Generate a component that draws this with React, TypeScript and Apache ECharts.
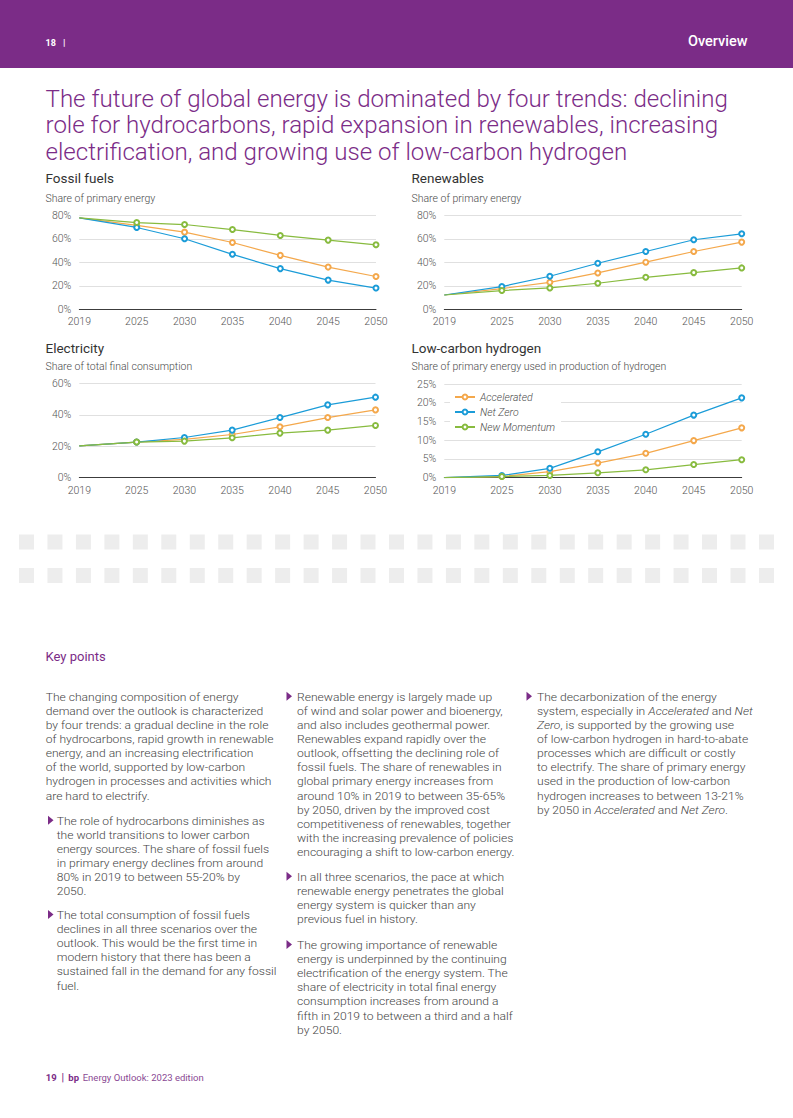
import React, { useEffect, useRef } from 'react';
import * as echarts from 'echarts';

// ---------- DATA ----------
const years = [2019, 2025, 2030, 2035, 2040, 2045, 2050];
const yearTicks = [2019, 2025, 2030, 2035, 2040, 2045, 2050];
const scenarios = ['Accelerated', 'Net Zero', 'New Momentum'];

const fossilAccelerated = [78, 71.5, 65.8, 57, 46, 36, 28];
const fossilNetZero = [78, 69.8, 60.2, 46.9, 34.7, 24.9, 18.1];
const fossilNewMomentum = [78, 74, 72.3, 68, 63, 59, 55];

const renewAccelerated = [12.2, 17.7, 23, 31, 40.2, 49.3, 57.3];
const renewNetZero = [12.2, 19.4, 28.2, 39.3, 49.3, 59.3, 64.4];
const renewNewMomentum = [12.2, 16, 18.2, 22.2, 27.3, 31.3, 35.3];

const elecAccelerated = [20.3, 22.7, 24.4, 27.5, 32.4, 38.3, 43.2];
const elecNetZero = [20.3, 22.7, 25.6, 30.3, 38.3, 46.4, 51.3];
const elecNewMomentum = [20.3, 22.7, 23.3, 25.4, 28.4, 30.3, 33.3];

const h2Accelerated = [0, 0.3, 1.6, 3.9, 6.5, 9.9, 13.3];
const h2NetZero = [0, 0.6, 2.5, 6.9, 11.6, 16.7, 21.3];
const h2NewMomentum = [0, 0.3, 0.6, 1.3, 2.1, 3.5, 4.8];

const fossilYTicks = { max: 80, interval: 20 };
const renewYTicks = { max: 80, interval: 20 };
const elecYTicks = { max: 60, interval: 20 };
const h2YTicks = { max: 25, interval: 5 };

const headerPage = '18';
const headerSection = 'Overview';
const titleLines = [
  'The future of global energy is dominated by four trends: declining',
  'role for hydrocarbons, rapid expansion in renewables, increasing',
  'electrification, and growing use of low-carbon hydrogen',
];
const keyPointsLabel = 'Key points';
const introLines = [
  'The changing composition of energy',
  'demand over the outlook is characterized',
  'by four trends: a gradual decline in the role',
  'of hydrocarbons, rapid growth in renewable',
  'energy, and an increasing electrification',
  'of the world, supported by low-carbon',
  'hydrogen in processes and activities which',
  'are hard to electrify.',
];
const bullet1 = [
  'The role of hydrocarbons diminishes as',
  'the world transitions to lower carbon',
  'energy sources. The share of fossil fuels',
  'in primary energy declines from around',
  '80% in 2019 to between 55-20% by',
  '2050.',
];
const bullet2 = [
  'The total consumption of fossil fuels',
  'declines in all three scenarios over the',
  'outlook. This would be the first time in',
  'modern history that there has been a',
  'sustained fall in the demand for any fossil',
  'fuel.',
];
const bullet3 = [
  'Renewable energy is largely made up',
  'of wind and solar power and bioenergy,',
  'and also includes geothermal power.',
  'Renewables expand rapidly over the',
  'outlook, offsetting the declining role of',
  'fossil fuels. The share of renewables in',
  'global primary energy increases from',
  'around 10% in 2019 to between 35-65%',
  'by 2050, driven by the improved cost',
  'competitiveness of renewables, together',
  'with the increasing prevalence of policies',
  'encouraging a shift to low-carbon energy.',
];
const bullet4 = [
  'In all three scenarios, the pace at which',
  'renewable energy penetrates the global',
  'energy system is quicker than any',
  'previous fuel in history.',
];
const bullet5 = [
  'The growing importance of renewable',
  'energy is underpinned by the continuing',
  'electrification of the energy system. The',
  'share of electricity in total final energy',
  'consumption increases from around a',
  'fifth in 2019 to between a third and a half',
  'by 2050.',
];
const bullet6 = [
  'The decarbonization of the energy',
  'system, especially in {i|Accelerated} and {i|Net}',
  '{i|Zero}, is supported by the growing use',
  'of low-carbon hydrogen in hard-to-abate',
  'processes which are difficult or costly',
  'to electrify. The share of primary energy',
  'used in the production of low-carbon',
  'hydrogen increases to between 13-21%',
  'by 2050 in {i|Accelerated} and {i|Net Zero}.',
];
const footerPage = '19';
const footerBrand = 'bp';
const footerText = 'Energy Outlook: 2023 edition';

// ---------- STYLE ----------
const PURPLE = '#7b2c87';
const TEXT = '#444444';
const AXIS_TEXT = '#555555';
const COLORS = ['#f4a84c', '#1b9cd8', '#88bb3f'];
const FONT = 'Roboto';

const ctx = typeof document !== 'undefined' ? document.createElement('canvas').getContext('2d') : null;
function measure(text: string, font: string) {
  if (!ctx) return 1;
  ctx.font = font;
  return ctx.measureText(text).width || 1;
}

function txt(text: string, x: number, y: number, o: any = {}) {
  return {
    type: 'text',
    x,
    y,
    scaleX: o.scaleX || 1,
    silent: true,
    style: {
      text,
      fontSize: o.fontSize || 11,
      fontWeight: o.fontWeight || 300,
      fontStyle: o.fontStyle || 'normal',
      fontFamily: FONT,
      fill: o.fill || TEXT,
      textAlign: o.align || 'left',
      textVerticalAlign: 'middle',
      rich: o.rich,
    },
  };
}

function buildOption() {
  const G: any[] = [];
  // header
  G.push({ type: 'rect', silent: true, shape: { x: 0, y: 0, width: 793, height: 68 }, style: { fill: PURPLE } });
  G.push(txt(headerPage, 45.5, 42.5, { fontSize: 9, fontWeight: 700, fill: '#fff' }));
  G.push(txt('|', 63, 42.5, { fontSize: 9.5, fontWeight: 700, fill: '#fff' }));
  G.push(txt(headerSection, 747.5, 41.5, { fontSize: 14.5, fontWeight: 500, fill: '#fff', align: 'right' }));

  // title
  const titleFont = `300 24px ${FONT}`;
  const tScale = 683 / measure(titleLines[0], titleFont);
  const titleY = [99, 125.5, 152];
  titleLines.forEach((l, i) => G.push(txt(l, 45.5, titleY[i], { fontSize: 24, fontWeight: 300, fill: PURPLE, scaleX: tScale })));

  // chart titles
  const chartTitles = [
    ['Fossil fuels', 'Share of primary energy', 45.5, 178.3, 198.3],
    ['Renewables', 'Share of primary energy', 411.5, 178.3, 198.3],
    ['Electricity', 'Share of total final consumption', 45.5, 348, 366.5],
    ['Low-carbon hydrogen', 'Share of primary energy used in production of hydrogen', 411.5, 348, 366.5],
  ];
  chartTitles.forEach((c: any) => {
    G.push(txt(c[0], c[2], c[3], { fontSize: 13.5, fontWeight: 400, fill: '#333333' }));
    G.push(txt(c[1], c[2], c[4], { fontSize: 10.5, fontWeight: 300, fill: '#4a4a4a' }));
  });

  // grey blocks
  for (let r = 0; r < 2; r++) {
    for (let i = 0; i < 27; i++) {
      G.push({ type: 'rect', silent: true, shape: { x: 19 + i * 28.46, y: r === 0 ? 534.5 : 568, width: 15, height: 15 }, style: { fill: '#ededed' } });
    }
  }

  G.push(txt(keyPointsLabel, 45.5, 656, { fontSize: 13, fontWeight: 400, fill: PURPLE }));

  // body text
  const bodyFont = `300 11.3px ${FONT}`;
  const bScale = 223 / measure(introLines[2], bodyFont);
  const LH = 14.14;
  const rich = { i: { fontStyle: 'italic', fontSize: 11.3, fontWeight: 300, fontFamily: FONT, fill: TEXT } };
  const para = (lines: string[], x: number, y0: number, bullet: number | null) => {
    if (bullet !== null) {
      G.push({ type: 'polygon', silent: true, shape: { points: [[bullet, y0 - 5], [bullet + 5.5, y0 - 0.5], [bullet, y0 + 4]] }, style: { fill: PURPLE } });
    }
    lines.forEach((l, i) => G.push(txt(l, x, y0 + i * LH, { fontSize: 11.3, fontWeight: 300, scaleX: bScale, rich: l.includes('{') ? rich : undefined })));
  };
  para(introLines, 45.7, 696.7, null);
  para(bullet1, 56.7, 820.7, 48);
  para(bullet2, 56.7, 915, 48);
  para(bullet3, 297, 696.7, 286.5);
  para(bullet4, 297, 876.7, 286.5);
  para(bullet5, 297, 945, 286.5);
  para(bullet6, 537, 696.7, 526.5);

  // footer
  G.push(txt(footerPage, 45.7, 1077, { fontSize: 9.5, fontWeight: 700, fill: PURPLE }));
  G.push(txt('|', 61.5, 1077, { fontSize: 10, fontWeight: 700, fill: PURPLE }));
  G.push(txt(footerBrand, 68.3, 1077, { fontSize: 9.5, fontWeight: 700, fill: PURPLE }));
  G.push(txt(footerText, 82.7, 1077, { fontSize: 9.5, fontWeight: 400, fill: '#8a4a94' }));

  // charts
  const panels = [
    { grid: { left: 79.3, top: 215.5, width: 296.7, height: 93.8 }, y: fossilYTicks, data: [fossilAccelerated, fossilNetZero, fossilNewMomentum] },
    { grid: { left: 444.3, top: 215.5, width: 297.4, height: 93.8 }, y: renewYTicks, data: [renewAccelerated, renewNetZero, renewNewMomentum] },
    { grid: { left: 79.3, top: 383.5, width: 296.2, height: 94.2 }, y: elecYTicks, data: [elecAccelerated, elecNetZero, elecNewMomentum] },
    { grid: { left: 444.3, top: 384, width: 297.4, height: 93.7 }, y: h2YTicks, data: [h2Accelerated, h2NetZero, h2NewMomentum] },
  ];

  const grid: any[] = [];
  const xAxis: any[] = [];
  const yAxis: any[] = [];
  const series: any[] = [];
  panels.forEach((p, pi) => {
    grid.push({ ...p.grid, containLabel: false });
    xAxis.push({
      type: 'value',
      gridIndex: pi,
      min: years[0],
      max: years[years.length - 1],
      splitLine: { show: false },
      axisTick: { show: false },
      axisLine: { show: true, lineStyle: { color: '#3c3c3c', width: 1 } },
      axisLabel: {
        customValues: yearTicks,
        formatter: (v: number) => String(v),
        color: AXIS_TEXT,
        fontSize: 10.5,
        fontFamily: FONT,
        fontWeight: 300,
        margin: 7,
      },
    });
    yAxis.push({
      type: 'value',
      gridIndex: pi,
      min: 0,
      max: p.y.max,
      interval: p.y.interval,
      axisLine: { show: false },
      axisTick: { show: false },
      splitLine: { show: true, lineStyle: { color: '#e0e0e0', width: 1 } },
      axisLabel: { formatter: '{value}%', color: AXIS_TEXT, fontSize: 10.5, fontFamily: FONT, fontWeight: 300, margin: 8 },
    });
    p.data.forEach((vals, si) => {
      series.push({
        type: 'line',
        name: scenarios[si],
        xAxisIndex: pi,
        yAxisIndex: pi,
        symbol: 'emptyCircle',
        symbolSize: 5,
        z: 3 + si,
        lineStyle: { color: COLORS[si], width: 1.2 },
        itemStyle: { color: COLORS[si], borderWidth: 1 },
        emphasis: { disabled: true },
        data: years.map((yr, k) => ({ value: [yr, vals[k]], symbol: k === 0 ? 'none' : 'emptyCircle' })),
      });
    });
  });

  return {
    animation: false,
    backgroundColor: '#fff',
    textStyle: { fontFamily: FONT },
    grid,
    xAxis,
    yAxis,
    series,
    legend: {
      data: scenarios,
      orient: 'vertical',
      left: 450,
      top: 388.5,
      itemWidth: 20,
      itemHeight: 6,
      itemGap: 2,
      padding: [2, 6, 2, 4],
      backgroundColor: '#fff',
      selectedMode: false,
      textStyle: { fontStyle: 'italic', fontSize: 10.5, fontWeight: 300, color: '#4a4a4a', fontFamily: FONT, lineHeight: 13 },
    },
    graphic: G,
  };
}

export default function App() {
  const ref = useRef<HTMLDivElement>(null);
  useEffect(() => {
    if (!ref.current) return;
    const chart = echarts.init(ref.current, null, { renderer: 'svg', width: 793, height: 1118 });
    chart.setOption(buildOption() as any);
    return () => chart.dispose();
  }, []);
  return <div ref={ref} style={{ position: 'absolute', left: 0, top: 0, width: 793, height: 1118, background: '#fff' }} />;
}
